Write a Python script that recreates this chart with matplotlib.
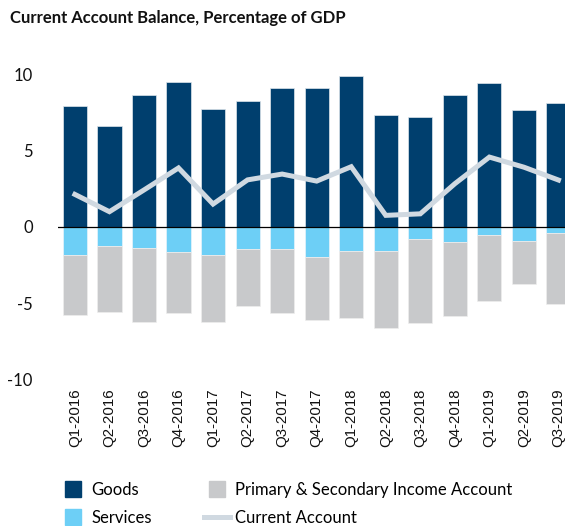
import numpy as np
from matplotlib import pyplot as plt
from matplotlib.lines import Line2D

quarters = ["Q1-2016", "Q2-2016", "Q3-2016", "Q4-2016",
            "Q1-2017", "Q2-2017", "Q3-2017", "Q4-2017",
            "Q1-2018", "Q2-2018", "Q3-2018", "Q4-2018",
            "Q1-2019", "Q2-2019", "Q3-2019"]
goods = [7.88, 6.58, 8.63, 9.48, 7.71, 8.24, 9.08, 9.08, 9.89, 7.34, 7.16, 8.63, 9.39, 7.62, 8.10]
services = [-1.86, -1.22, -1.35, -1.61, -1.81, -1.42, -1.42, -1.96, -1.59, -1.55, -0.81, -0.96, -0.50, -0.90, -0.37]
income = [-3.89, -4.36, -4.86, -4.01, -4.40, -3.74, -4.20, -4.12, -4.36, -5.03, -5.49, -4.84, -4.32, -2.81, -4.66]
current = [2.13, 1.00, 2.42, 3.86, 1.50, 3.08, 3.46, 3.00, 3.94, 0.76, 0.86, 2.83, 4.57, 3.91, 3.07]

c_goods = "#003f6e"
c_services = "#6dcff6"
c_income = "#c8c9cb"
c_current = "#d0d9e1"

fig = plt.figure(figsize=(5.65, 5.26), dpi=100)
ax = fig.add_axes([0.102, 0.2776, 0.917, 0.5817])

x = np.arange(len(quarters))
w = 0.7
ax.bar(x, goods, w, color=c_goods, edgecolor="#dfe6ec", linewidth=0.5, zorder=2)
ax.bar(x, services, w, color=c_services, edgecolor="#e8f4fa", linewidth=0.5, zorder=2)
ax.bar(x, income, w, bottom=services, color=c_income, edgecolor="#eeeeee", linewidth=0.5, zorder=2)
ax.plot(x, current, color=c_current, linewidth=3.6, solid_joinstyle="miter", zorder=3)
ax.axhline(0, color="black", linewidth=0.9, zorder=4)

ax.set_xlim(-0.5, len(quarters) - 0.5)
ax.set_ylim(-10, 10)
ax.set_yticks([-10, -5, 0, 5, 10])
ax.set_yticklabels(["-10", "-5", "0", "5", "10"], fontfamily="Lato", fontsize=12)
ax.set_xticks(x)
ax.set_xticklabels(quarters, rotation=90, fontfamily="Liberation Sans", fontsize=10.8)
ax.tick_params(axis="both", length=0, colors="#111111")
ax.tick_params(axis="y", pad=18)
ax.tick_params(axis="x", pad=6)
for s in ax.spines.values():
    s.set_visible(False)

fig.text(0.018, 0.966, "Current Account Balance, Percentage of GDP",
         fontfamily="Lato", fontweight="bold", fontsize=12, va="center", color="#111111")

handles = [
    Line2D([], [], marker="s", markersize=11, linestyle="none", color=c_goods),
    Line2D([], [], marker="s", markersize=11, linestyle="none", color=c_services),
    Line2D([], [], marker="s", markersize=11, linestyle="none", color=c_income),
    Line2D([], [], color=c_current, linewidth=3.6),
]
labels = ["Goods", "Services", "Primary & Secondary Income Account", "Current Account"]
leg = fig.legend(handles, labels, ncol=2, loc="upper left", bbox_to_anchor=(0.106, 0.084),
                 frameon=False, prop={"family": "Lato", "size": 12},
                 handlelength=1.6, handletextpad=0.3, columnspacing=3.1,
                 labelspacing=0.75, borderpad=0, borderaxespad=0)

fig.savefig("out.png", dpi=100)
